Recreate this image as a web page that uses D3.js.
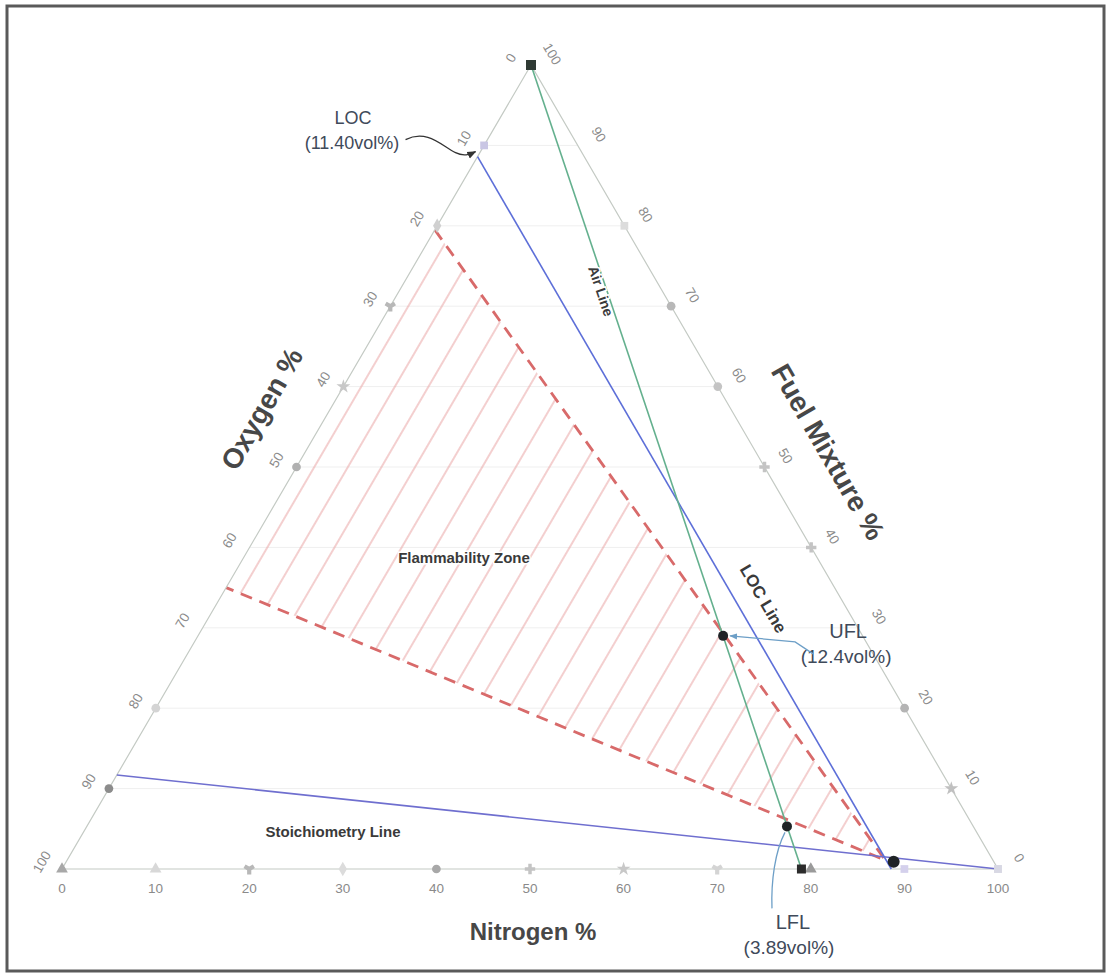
<!DOCTYPE html>
<html>
<head>
<meta charset="utf-8">
<script src="https://cdn.jsdelivr.net/npm/d3@7/dist/d3.min.js"></script>
<style>
  html, body { margin: 0; padding: 0; background: #fff; }
  svg { display: block; }
  text { font-family: "Liberation Sans", Arial, sans-serif; }
</style>
</head>
<body>
<svg id="chart" width="1110" height="978"></svg>
<script>
// ---- Data (ternary compositions in %: f = fuel mixture, o = oxygen, n = nitrogen) ----
const axisTicks = [0, 10, 20, 30, 40, 50, 60, 70, 80, 90, 100];
const gridFuel = [10, 20, 30, 40, 50, 60, 70, 80, 90];

const airLine = [{ f: 100, o: 0, n: 0 }, { f: 0, o: 21, n: 79 }];
const locLine = [{ f: 88.6, o: 11.4, n: 0 }, { f: 0, o: 11.4, n: 88.6 }];
const stoichLine = [{ f: 11.7, o: 88.3, n: 0 }, { f: 0, o: 0, n: 100 }];

// flammability zone: upper limit corner, apex near LOC, lower limit corner
const flammZone = [
  { f: 79.5, o: 20.5, n: 0 },
  { f: 1.1, o: 11.5, n: 87.4 },
  { f: 35, o: 65, n: 0 }
];

const uflPoint = { f: 29, o: 14.9, n: 56.1 };
const lflPoint = { f: 5.3, o: 19.9, n: 74.8 };
const locApexPoint = { f: 0.9, o: 10.7, n: 88.4 };
const airPoint = { f: 0, o: 21, n: 79 };
const fuelPoint = { f: 100, o: 0, n: 0 };

// series markers sitting on the three axes (symbol name, colour)
const bottomMarks = [
  ["triangle", "#a8a8a8"], ["triangle", "#d8d8d8"], ["wye", "#b8b8b8"], ["diamond", "#dcdcdc"],
  ["circle", "#a8a8a8"], ["cross", "#c4c4c4"], ["star", "#c8c8c8"], ["wye", "#d4d4d4"],
  ["triangle", "#9a9a9a"], ["square", "#d4d0ec"], ["square", "#d8d8e4"]
];
const leftMarks = [
  null, ["square", "#c9c6e4"], ["diamond", "#d0d0d0"], ["wye", "#b8b8b8"], ["star", "#c8c8c8"],
  ["circle", "#b0b0b0"], null, null, ["circle", "#d4d4d4"], ["circle", "#8c8c8c"], null
];
const rightMarks = [
  ["square", "#d8d8e4"], ["star", "#c0c0c0"], ["circle", "#b4b4b4"], null, ["cross", "#c4c4c4"],
  ["cross", "#c4c4c4"], ["circle", "#c4c4c4"], ["circle", "#b8b8b8"], ["square", "#dcdcdc"], null, null
];

// ---- Ternary projection built from linear scales ----
const xN = d3.scaleLinear().domain([0, 100]).range([62, 998]);
const xF = d3.scaleLinear().domain([0, 100]).range([0, 469]);
const yF = d3.scaleLinear().domain([0, 100]).range([869, 65]);
const proj = p => [xN(p.n) + xF(p.f), yF(p.f)];

const symbolTypes = {
  triangle: d3.symbolTriangle, wye: d3.symbolWye, diamond: d3.symbolDiamond,
  circle: d3.symbolCircle, cross: d3.symbolCross, star: d3.symbolStar, square: d3.symbolSquare
};

const svg = d3.select("#chart");
const line = d3.line();

// outer frame
svg.append("rect").attr("x", 7).attr("y", 6).attr("width", 1097).attr("height", 965)
  .attr("fill", "#fff").attr("stroke", "#5a5a5a").attr("stroke-width", 3);

const defs = svg.append("defs");
// hatch running parallel to the oxygen edge (constant nitrogen)
const hatch = defs.append("pattern").attr("id", "hatch").attr("patternUnits", "userSpaceOnUse")
  .attr("width", 29).attr("height", 20).attr("patternTransform", "rotate(30.3)");
hatch.append("line").attr("x1", 14).attr("y1", -2).attr("x2", 14).attr("y2", 22)
  .attr("stroke", "#eaa7a7").attr("stroke-width", 1.1);

defs.append("marker").attr("id", "arrowDark").attr("viewBox", "0 0 10 10").attr("refX", 9).attr("refY", 5)
  .attr("markerWidth", 7).attr("markerHeight", 7).attr("orient", "auto")
  .append("path").attr("d", "M0,1 L10,5 L0,9 z").attr("fill", "#333");
defs.append("marker").attr("id", "arrowBlue").attr("viewBox", "0 0 10 10").attr("refX", 9).attr("refY", 5)
  .attr("markerWidth", 6).attr("markerHeight", 6).attr("orient", "auto")
  .append("path").attr("d", "M0,1 L10,5 L0,9 z").attr("fill", "#6d9fc7");

// faint horizontal gridlines (constant fuel)
svg.append("g").selectAll("line").data(gridFuel).join("line")
  .attr("x1", f => proj({ f, o: 100 - f, n: 0 })[0])
  .attr("x2", f => proj({ f, o: 0, n: 100 - f })[0])
  .attr("y1", f => yF(f)).attr("y2", f => yF(f))
  .attr("stroke", "#efefef").attr("stroke-width", 1);

// flammability zone hatch + dashed limit lines
svg.append("path").attr("d", line(flammZone.map(proj)) + "Z").attr("fill", "url(#hatch)");
svg.append("path").attr("d", line([flammZone[0], flammZone[1], flammZone[2]].map(proj)))
  .attr("fill", "none").attr("stroke", "#d86a6a").attr("stroke-width", 2.8)
  .attr("stroke-dasharray", "12,8");

// triangle edges
const corners = [{ f: 100, o: 0, n: 0 }, { f: 0, o: 100, n: 0 }, { f: 0, o: 0, n: 100 }];
svg.append("path").attr("d", line(corners.map(proj)) + "Z")
  .attr("fill", "none").attr("stroke", "#c4cac4").attr("stroke-width", 1.2);

// reference lines
svg.append("path").attr("d", line(stoichLine.map(proj))).attr("fill", "none")
  .attr("stroke", "#6f6fcf").attr("stroke-width", 1.6);
svg.append("path").attr("d", line(locLine.map(proj))).attr("fill", "none")
  .attr("stroke", "#5d6fd8").attr("stroke-width", 1.6);
svg.append("path").attr("d", line(airLine.map(proj))).attr("fill", "none")
  .attr("stroke", "#64b08e").attr("stroke-width", 1.6);

// axis markers
function drawMarks(list, toPoint) {
  list.forEach((m, i) => {
    if (!m) return;
    const [x, y] = proj(toPoint(axisTicks[i]));
    svg.append("path").attr("d", d3.symbol().type(symbolTypes[m[0]]).size(60)())
      .attr("transform", `translate(${x},${y})`).attr("fill", m[1]);
  });
}
drawMarks(bottomMarks, v => ({ f: 0, o: 100 - v, n: v }));
drawMarks(leftMarks, v => ({ f: 100 - v, o: v, n: 0 }));
drawMarks(rightMarks, v => ({ f: v, o: 0, n: 100 - v }));

// key points
const [fx, fy] = proj(fuelPoint);
svg.append("rect").attr("x", fx - 5).attr("y", fy - 5).attr("width", 10).attr("height", 10).attr("fill", "#2f3a34");
const [ax, ay] = proj(airPoint);
svg.append("rect").attr("x", ax - 4.5).attr("y", ay - 4.5).attr("width", 9).attr("height", 9).attr("fill", "#2b2b2b");
svg.selectAll("circle.pt").data([uflPoint, lflPoint]).join("circle").attr("class", "pt")
  .attr("cx", d => proj(d)[0]).attr("cy", d => proj(d)[1]).attr("r", 5).attr("fill", "#1f2326");
svg.append("circle").attr("cx", proj(locApexPoint)[0]).attr("cy", proj(locApexPoint)[1])
  .attr("r", 6).attr("fill", "#1f2326");

// tick labels
const tickStyle = sel => sel.attr("font-size", 13.5).attr("fill", "#8a8a8a")
  .attr("text-anchor", "middle").attr("dominant-baseline", "central");
svg.append("g").selectAll("text").data(axisTicks).join("text").call(tickStyle)
  .attr("x", v => xN(v)).attr("y", 888).text(v => v);
svg.append("g").selectAll("text").data(axisTicks).join("text").call(tickStyle)
  .attr("transform", v => { const [x, y] = proj({ f: 100 - v, o: v, n: 0 }); return `translate(${x - 20},${y - 7}) rotate(-60)`; })
  .text(v => v);
svg.append("g").selectAll("text").data(axisTicks).join("text").call(tickStyle)
  .attr("transform", v => { const [x, y] = proj({ f: v, o: 0, n: 100 - v }); return `translate(${x + 21},${y - 11}) rotate(60)`; })
  .text(v => v);

// axis titles
const title = sel => sel.attr("font-weight", "bold").attr("fill", "#474747")
  .attr("text-anchor", "middle").attr("dominant-baseline", "central");
svg.append("text").call(title).attr("font-size", 28).attr("transform", "translate(262,409) rotate(-60)").text("Oxygen %");
svg.append("text").call(title).attr("font-size", 28).attr("transform", "translate(828,452) rotate(60)").text("Fuel Mixture %");
svg.append("text").call(title).attr("font-size", 24).attr("x", 533).attr("y", 931).text("Nitrogen %");

// line / zone labels
const bold = sel => sel.attr("font-weight", "bold").attr("fill", "#3a3a3a")
  .attr("text-anchor", "middle").attr("dominant-baseline", "central")
  .attr("stroke", "#fff").attr("stroke-width", 3).attr("paint-order", "stroke");
svg.append("text").call(bold).attr("font-size", 15).attr("x", 464).attr("y", 557).text("Flammability Zone");
svg.append("text").call(bold).attr("font-size", 15).attr("x", 333).attr("y", 831).text("Stoichiometry Line");
svg.append("text").call(bold).attr("font-size", 14).attr("transform", "translate(601,291) rotate(71.4)").text("Air Line");
svg.append("text").call(bold).attr("font-size", 17).attr("transform", "translate(763,599) rotate(59.8)").text("LOC Line");

// annotations
const note = sel => sel.attr("fill", "#3f4a5a").attr("text-anchor", "middle");
const locStart = proj(locLine[0]);
svg.append("text").call(note).attr("font-size", 18).attr("x", 353).attr("y", 124).text("LOC");
svg.append("text").call(note).attr("font-size", 18).attr("x", 352).attr("y", 149).text("(11.40vol%)");
svg.append("path")
  .attr("d", `M${locStart[0] - 72},${locStart[1] - 17} C${locStart[0] - 50},${locStart[1] - 28} ${locStart[0] - 35},${locStart[1] - 10} ${locStart[0] - 22},${locStart[1] - 4} C${locStart[0] - 14},${locStart[1]} ${locStart[0] - 8},${locStart[1] - 2} ${locStart[0] - 2},${locStart[1] - 5}`)
  .attr("fill", "none").attr("stroke", "#333").attr("stroke-width", 1.3).attr("marker-end", "url(#arrowDark)");

const [ux, uy] = proj(uflPoint);
svg.append("text").call(note).attr("font-size", 20).attr("x", ux + 125).attr("y", uy + 2).text("UFL");
svg.append("text").call(note).attr("font-size", 19).attr("x", ux + 123).attr("y", uy + 27).text("(12.4vol%)");
svg.append("path").attr("d", `M${ux + 90},${uy + 18} L${ux + 72},${uy + 6} L${ux + 7},${uy}`)
  .attr("fill", "none").attr("stroke", "#6d9fc7").attr("stroke-width", 1.3).attr("marker-end", "url(#arrowBlue)");

const [lx, ly] = proj(lflPoint);
svg.append("text").call(note).attr("font-size", 20).attr("x", lx + 6).attr("y", ly + 103).text("LFL");
svg.append("text").call(note).attr("font-size", 19).attr("x", lx + 2).attr("y", ly + 128).text("(3.89vol%)");
svg.append("path").attr("d", `M${lx - 15},${ly + 82} C${lx - 16},${ly + 55} ${lx - 12},${ly + 25} ${lx - 2},${ly + 6}`)
  .attr("fill", "none").attr("stroke", "#6d9fc7").attr("stroke-width", 1.3);
</script>
</body>
</html>
